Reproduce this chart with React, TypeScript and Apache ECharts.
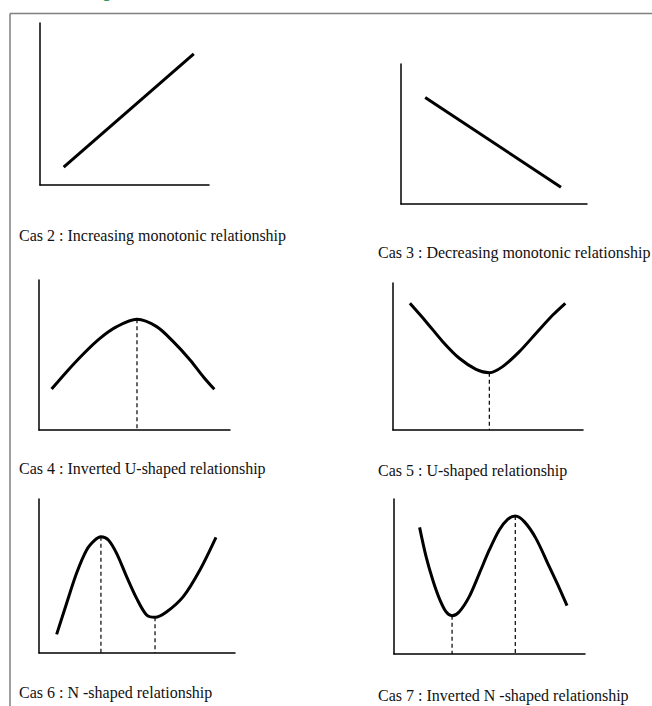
import React, { useEffect, useRef } from "react";
import * as echarts from "echarts";

// ---- data (axis units 0..10 in each small panel) ----
const cas2Line: number[][] = [[1.4, 1.1], [9.1, 8.1]];
const cas3Line: number[][] = [[1.3, 7.6], [8.6, 1.2]];
const cas4Curve: number[][] = [
  [0.66, 2.73], [1.45, 3.89], [2.32, 5.07], [3.19, 6.11], [4.07, 6.89], [5.13, 7.38],
  [6.16, 6.89], [7.03, 5.89], [7.91, 4.67], [8.6, 3.55], [9.18, 2.71],
];
const cas5Curve: number[][] = [
  [0.89, 8.62], [1.74, 7.37], [2.62, 6.01], [3.49, 4.88], [4.37, 4.13], [5.07, 3.9],
  [5.77, 4.31], [6.65, 5.33], [7.53, 6.58], [8.41, 7.82], [9.07, 8.62],
];
const cas6Curve: number[][] = [
  [0.9, 1.21], [1.41, 3.23], [1.92, 5.19], [2.43, 6.69], [2.86, 7.34], [3.16, 7.55],
  [3.54, 7.34], [3.96, 6.47], [4.47, 4.96], [4.98, 3.55], [5.49, 2.47], [5.92, 2.32],
  [6.52, 2.68], [7.36, 3.66], [8.21, 5.39], [9.03, 7.51],
];
const cas7Curve: number[][] = [
  [1.34, 8.17], [1.68, 6.28], [2.03, 4.77], [2.37, 3.59], [2.72, 2.73], [3.04, 2.47],
  [3.42, 2.73], [3.94, 3.7], [4.47, 5.2], [4.99, 6.71], [5.51, 8.0], [5.95, 8.69],
  [6.35, 8.9], [6.82, 8.54], [7.43, 7.46], [8.13, 5.63], [8.66, 4.24], [9.06, 3.12],
];
// dashed verticals per panel: [x, yTop]
const cas4Dashes: number[][] = [[5.13, 7.38]];
const cas5Dashes: number[][] = [[5.07, 3.9]];
const cas6Dashes: number[][] = [[3.16, 7.55], [5.92, 2.32]];
const cas7Dashes: number[][] = [[3.04, 2.47], [6.35, 8.9]];

const captions: string[] = [
  "Cas 2 : Increasing monotonic relationship",
  "Cas 3 : Decreasing monotonic relationship",
  "Cas 4 : Inverted U-shaped relationship",
  "Cas 5 : U-shaped relationship",
  "Cas 6 : N -shaped relationship",
  "Cas 7 : Inverted N -shaped relationship",
];
const headingFragment = "g";

const curves = [cas2Line, cas3Line, cas4Curve, cas5Curve, cas6Curve, cas7Curve];
const dashes = [[], [], cas4Dashes, cas5Dashes, cas6Dashes, cas7Dashes];

// ---- layout ----
const grids = [
  { left: 40, top: 23, width: 169, height: 162 },
  { left: 401, top: 64, width: 186, height: 140 },
  { left: 39, top: 280, width: 191, height: 150 },
  { left: 393, top: 283, width: 190, height: 147 },
  { left: 39, top: 499, width: 196, height: 154 },
  { left: 394, top: 499, width: 191, height: 155 },
];
const captionPos = [
  { x: 19, base: 241 },
  { x: 378, base: 258 },
  { x: 19, base: 474 },
  { x: 378, base: 476 },
  { x: 19, base: 698 },
  { x: 378, base: 701 },
];

export default function App() {
  const ref = useRef<HTMLDivElement>(null);
  useEffect(() => {
    document.body.style.margin = "0";
    const chart = echarts.init(ref.current!, null, { renderer: "svg" });
    const axisCommon = {
      type: "value" as const,
      min: 0,
      max: 10,
      axisLine: { show: true, onZero: false, lineStyle: { color: "#000", width: 1.5 } },
      axisTick: { show: false },
      axisLabel: { show: false },
      splitLine: { show: false },
    };
    const series: any[] = [];
    curves.forEach((data, i) => {
      series.push({
        type: "line",
        xAxisIndex: i,
        yAxisIndex: i,
        data,
        smooth: i >= 2 ? 0.3 : false,
        showSymbol: false,
        lineStyle: { color: "#000", width: 3 },
        silent: true,
      });
      (dashes[i] as number[][]).forEach((d) => {
        series.push({
          type: "line",
          xAxisIndex: i,
          yAxisIndex: i,
          data: [[d[0], d[1]], [d[0], 0]],
          showSymbol: false,
          lineStyle: { color: "#000", width: 1.2, type: [4, 3] },
          silent: true,
        });
      });
    });
    const graphics: any[] = [
      { type: "line", shape: { x1: 10, y1: 13.5, x2: 652, y2: 13.5 }, style: { stroke: "#808080", lineWidth: 1.5 } },
      { type: "line", shape: { x1: 10, y1: 13.5, x2: 10, y2: 706 }, style: { stroke: "#808080", lineWidth: 1.5 } },
      {
        type: "text",
        x: 102,
        y: -8,
        style: { text: headingFragment, fill: "#2e9a4a", font: "bold 15px 'Liberation Sans'", verticalAlign: "middle" },
      },
    ];
    captions.forEach((t, i) => {
      graphics.push({
        type: "text",
        x: captionPos[i].x,
        y: captionPos[i].base - 5.4,
        style: {
          text: t,
          fill: "#111",
          font: "16px 'Liberation Serif'",
          verticalAlign: "middle",
          align: "left",
        },
      });
    });
    chart.setOption({
      animation: false,
      backgroundColor: "#fff",
      grid: grids.map((g) => ({ ...g, containLabel: false })),
      xAxis: grids.map((_, i) => ({ ...axisCommon, gridIndex: i })),
      yAxis: grids.map((_, i) => ({ ...axisCommon, gridIndex: i })),
      series,
      graphic: graphics,
    });
    return () => chart.dispose();
  }, []);
  return <div ref={ref} style={{ width: 652, height: 706 }} />;
}
